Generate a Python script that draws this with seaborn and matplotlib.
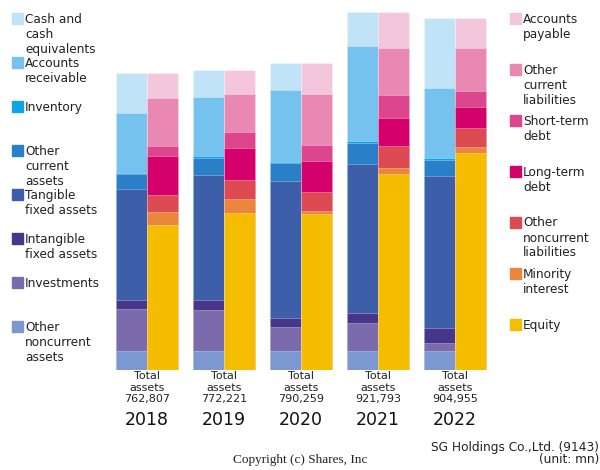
import numpy as np
import pandas as pd
import matplotlib
matplotlib.use("Agg")
import matplotlib.pyplot as plt
from matplotlib.patches import Rectangle
import seaborn as sns

years = ["2018", "2019", "2020", "2021", "2022"]
total_assets = [762807, 772221, 790259, 921793, 904955]

asset_labels = ["Cash and\ncash\nequivalents", "Accounts\nreceivable", "Inventory",
                "Other\ncurrent\nassets", "Tangible\nfixed assets", "Intangible\nfixed assets",
                "Investments", "Other\nnoncurrent\nassets"]
liab_labels = ["Accounts\npayable", "Other\ncurrent\nliabilities", "Short-term\ndebt",
               "Long-term\ndebt", "Other\nnoncurrent\nliabilities", "Minority\ninterest", "Equity"]

# assets (top to bottom), unit: mn
cash = [103000, 68800, 69500, 87600, 178400]
receivable = [152700, 151900, 184600, 244600, 180300]
inventory = [2600, 5200, 3300, 5200, 5200]
other_current = [40400, 45600, 46400, 53300, 43000]
tangible = [285800, 321900, 352800, 385500, 391400]
intangible = [22400, 23900, 23200, 25000, 37900]
investments = [108200, 107400, 62600, 72100, 20600]
other_noncurrent = [48900, 48200, 48200, 48900, 48900]

# liabilities & equity (top to bottom)
payable = [63600, 61000, 79800, 92700, 76500]
other_cur_liab = [124400, 98600, 130600, 120300, 110700]
short_debt = [23900, 41200, 42000, 61000, 40400]
long_debt = [101200, 83200, 79800, 70300, 54800]
other_nc_liab = [43800, 48200, 48900, 57400, 48900]
minority = [33500, 36100, 7000, 15500, 15500]
equity = [373400, 404300, 402500, 504700, 558800]

asset_series = [cash, receivable, inventory, other_current, tangible, intangible,
                investments, other_noncurrent]
liab_series = [payable, other_cur_liab, short_debt, long_debt, other_nc_liab, minority, equity]

asset_colors = ["#c1e3f7", "#75c2ef", "#0ea5e6", "#2a80c8", "#3d5ea8", "#46378a",
                "#7b6bad", "#7b99d0"]
liab_colors = ["#f4c6dc", "#e888b3", "#dd458c", "#d4006b", "#dd4a52", "#eb873a", "#f4bd00"]

sns.set_style("white")
plt.rcParams['font.family'] = ['DejaVu Sans']

W, H = 600, 470
fig = plt.figure(figsize=(6, 4.7), dpi=100)

def fx(px):
    return px / W

def fy(py):
    return 1 - py / H

# axes: x pixels 100..500, y pixels 10..370
ax = fig.add_axes([fx(100), fy(370), 400 / W, 360 / H])
scale = 2575.0  # mn per pixel
xpos = np.arange(len(years))
bw = 31 / 77

def draw_stack(series_list, colors, offset):
    arr = np.array(series_list, dtype=float)  # top to bottom
    rev = arr[::-1]
    cum = np.cumsum(rev, axis=0)[::-1]  # cum[k] = top of segment k
    for k in range(len(series_list)):
        df = pd.DataFrame({"x": xpos + offset, "y": cum[k]})
        sns.barplot(data=df, x="x", y="y", native_scale=True, width=bw,
                    color=colors[k], saturation=1, errorbar=None, ax=ax,
                    edgecolor=(1, 1, 1, 0.35), linewidth=0.6)

draw_stack(asset_series, asset_colors, -bw / 2)
draw_stack(liab_series, liab_colors, bw / 2)

ax.set_xlim((100 - 147) / 77, (500 - 147) / 77)
ax.set_ylim(0, 360 * scale)
ax.axis("off")

# bottom labels
for i, (yr, tot) in enumerate(zip(years, total_assets)):
    cx = 147 + 77 * i
    fig.text(fx(cx), fy(371), f"Total\nassets\n{tot:,}", ha="center", va="top",
             fontsize=8, linespacing=1.2, color="#222222")
    fig.text(fx(cx), fy(420), yr, ha="center", va="center", fontsize=12.5, color="#111111")

sq = 10.5
left_y = [13.3, 57.3, 101, 145.3, 189.3, 233.3, 277.3, 321.3]
for lab, col, yy in zip(asset_labels, asset_colors, left_y):
    fig.add_artist(Rectangle((fx(12.3), fy(yy + sq)), sq / W, sq / H, color=col,
                             transform=fig.transFigure))
    fig.text(fx(25), fy(yy - 0.5), lab, ha="left", va="top", fontsize=8.7,
             linespacing=1.2, color="#222222")

right_y = [13.3, 64.3, 115.3, 166.3, 217, 268.3, 319]
for lab, col, yy in zip(liab_labels, liab_colors, right_y):
    fig.add_artist(Rectangle((fx(510), fy(yy + sq)), sq / W, sq / H, color=col,
                             transform=fig.transFigure))
    fig.text(fx(523), fy(yy - 0.5), lab, ha="left", va="top", fontsize=8.7,
             linespacing=1.2, color="#222222")

fig.text(fx(599), fy(448), "SG Holdings Co.,Ltd. (9143)", ha="right", va="center",
         fontsize=8.7, color="#222222")
fig.text(fx(599), fy(460), "(unit: mn)", ha="right", va="center", fontsize=8.7,
         color="#222222")
fig.text(fx(300), fy(460), "Copyright (c) Shares, Inc", ha="center", va="center",
         fontsize=9.5, family=["Liberation Serif"], color="#222222")

fig.savefig("out.png", dpi=100)
